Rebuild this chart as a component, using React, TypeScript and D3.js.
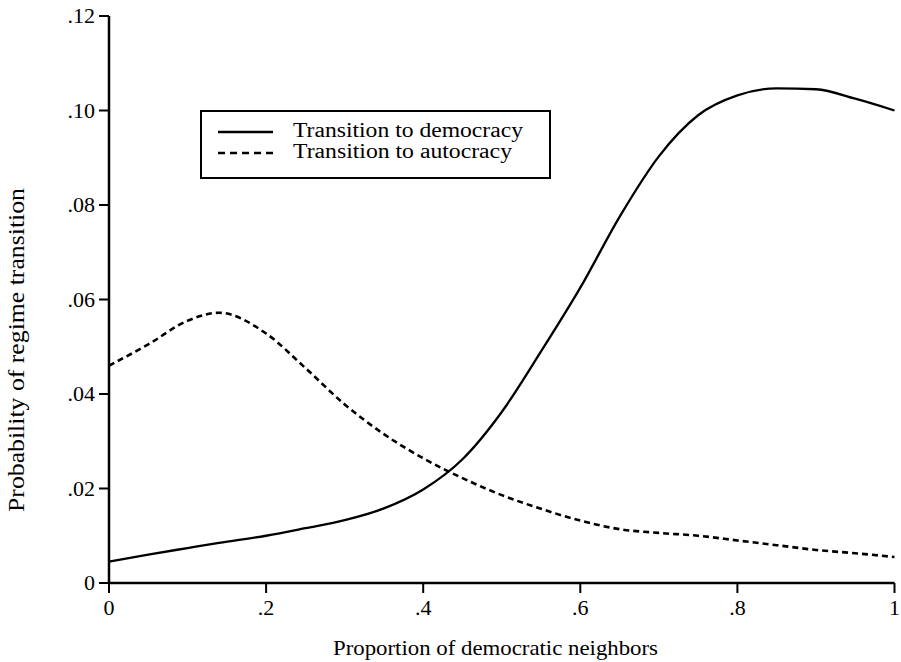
// App.tsx
import React, { useEffect, useRef } from 'react';
import * as d3 from 'd3';

// proportion of democratic neighbours (x)
const proportion = [0, 0.05, 0.1, 0.14, 0.2, 0.25, 0.3, 0.35, 0.4, 0.45, 0.5, 0.55, 0.6, 0.65, 0.7, 0.75, 0.8, 0.85, 0.9, 0.95, 1];

// probability curves
const toDemocracy = [0.0045, 0.006, 0.0074, 0.0085, 0.01, 0.0116, 0.0133, 0.0158, 0.0198, 0.0262, 0.0362, 0.049, 0.0625, 0.0775, 0.0903, 0.099, 0.1032, 0.1047, 0.1045, 0.1025, 0.1];
const toAutocracy = [0.046, 0.0505, 0.0555, 0.0572, 0.0528, 0.0455, 0.0378, 0.0315, 0.0264, 0.0222, 0.0186, 0.0157, 0.0132, 0.0114, 0.0106, 0.01, 0.009, 0.008, 0.007, 0.0063, 0.0055];

const xTicks = [0, 0.2, 0.4, 0.6, 0.8, 1];
const xTickLabels = ['0', '.2', '.4', '.6', '.8', '1'];
const yTicks = [0, 0.02, 0.04, 0.06, 0.08, 0.1, 0.12];
const yTickLabels = ['0', '.02', '.04', '.06', '.08', '.10', '.12'];

const seriesNames = ['Transition to democracy', 'Transition to autocracy'];

const App: React.FC = () => {
  const svgRef = useRef<SVGSVGElement>(null);

  const width = 901;
  const height = 662;
  const font = '"Liberation Serif", "Times New Roman", serif';

  useEffect(() => {
    if (!svgRef.current) return;
    const svg = d3.select(svgRef.current);
    svg.selectAll('*').remove();

    const x = d3.scaleLinear().domain([0, 1]).range([109, 894.5]);
    const y = d3.scaleLinear().domain([0, 0.12]).range([583, 16]);

    const g = svg.append('g').attr('font-family', font).attr('fill', '#000');

    // axes lines
    g.append('line')
      .attr('x1', x(0)).attr('x2', x(0))
      .attr('y1', y(0)).attr('y2', y(0.12))
      .attr('stroke', '#000').attr('stroke-width', 2.5);
    g.append('line')
      .attr('x1', x(0)).attr('x2', x(1))
      .attr('y1', y(0)).attr('y2', y(0))
      .attr('stroke', '#000').attr('stroke-width', 2.5);

    // y ticks
    const yt = g.append('g').selectAll('g').data(yTicks).join('g')
      .attr('transform', d => `translate(0,${y(d)})`);
    yt.append('line')
      .attr('x1', x(0) - 10).attr('x2', x(0))
      .attr('stroke', '#000').attr('stroke-width', 2);
    yt.append('text')
      .attr('x', x(0) - 14)
      .attr('dy', '0.34em')
      .attr('text-anchor', 'end')
      .attr('font-size', 22)
      .text((_, i) => yTickLabels[i]);

    // x ticks
    const xt = g.append('g').selectAll('g').data(xTicks).join('g')
      .attr('transform', d => `translate(${x(d)},0)`);
    xt.append('line')
      .attr('y1', y(0)).attr('y2', y(0) + 10)
      .attr('stroke', '#000').attr('stroke-width', 2);
    xt.append('text')
      .attr('y', 615)
      .attr('text-anchor', 'middle')
      .attr('font-size', 22)
      .text((_, i) => xTickLabels[i]);

    // axis titles
    g.append('text')
      .attr('x', 333)
      .attr('y', 655)
      .attr('font-size', 22)
      .attr('textLength', 325)
      .attr('lengthAdjust', 'spacingAndGlyphs')
      .text('Proportion of democratic neighbors');
    g.append('text')
      .attr('transform', `translate(24,512) rotate(-90)`)
      .attr('font-size', 23)
      .attr('textLength', 324)
      .attr('lengthAdjust', 'spacingAndGlyphs')
      .text('Probability of regime transition');

    // curves
    const line = d3.line<number>()
      .x((_, i) => x(proportion[i]))
      .y(d => y(d))
      .curve(d3.curveMonotoneX);

    g.append('path')
      .attr('d', line(toDemocracy))
      .attr('fill', 'none')
      .attr('stroke', '#000')
      .attr('stroke-width', 2.3);
    g.append('path')
      .attr('d', line(toAutocracy))
      .attr('fill', 'none')
      .attr('stroke', '#000')
      .attr('stroke-width', 2.6)
      .attr('stroke-dasharray', '6,4');

    // legend
    const legendLen = [230, 219];
    const legend = g.append('g');
    legend.append('rect')
      .attr('x', 201).attr('y', 111)
      .attr('width', 349).attr('height', 67)
      .attr('fill', '#fff')
      .attr('stroke', '#000').attr('stroke-width', 2);
    const rows = legend.selectAll('g.row').data(seriesNames).join('g')
      .attr('class', 'row')
      .attr('transform', (_, i) => `translate(0,${132 + i * 21})`);
    rows.append('line')
      .attr('x1', 218).attr('x2', 273)
      .attr('stroke', '#000')
      .attr('stroke-width', (_, i) => (i === 0 ? 2.6 : 2.4))
      .attr('stroke-dasharray', (_, i) => (i === 0 ? null : '7,5'));
    rows.append('text')
      .attr('x', 293)
      .attr('y', 5)
      .attr('font-size', 20)
      .attr('textLength', (_, i) => legendLen[i])
      .attr('lengthAdjust', 'spacingAndGlyphs')
      .text(d => d);
  }, []);

  return (
    <svg
      ref={svgRef}
      width={width}
      height={height}
      style={{ position: 'absolute', left: 0, top: 0, background: '#fff' }}
    />
  );
};

export default App;
